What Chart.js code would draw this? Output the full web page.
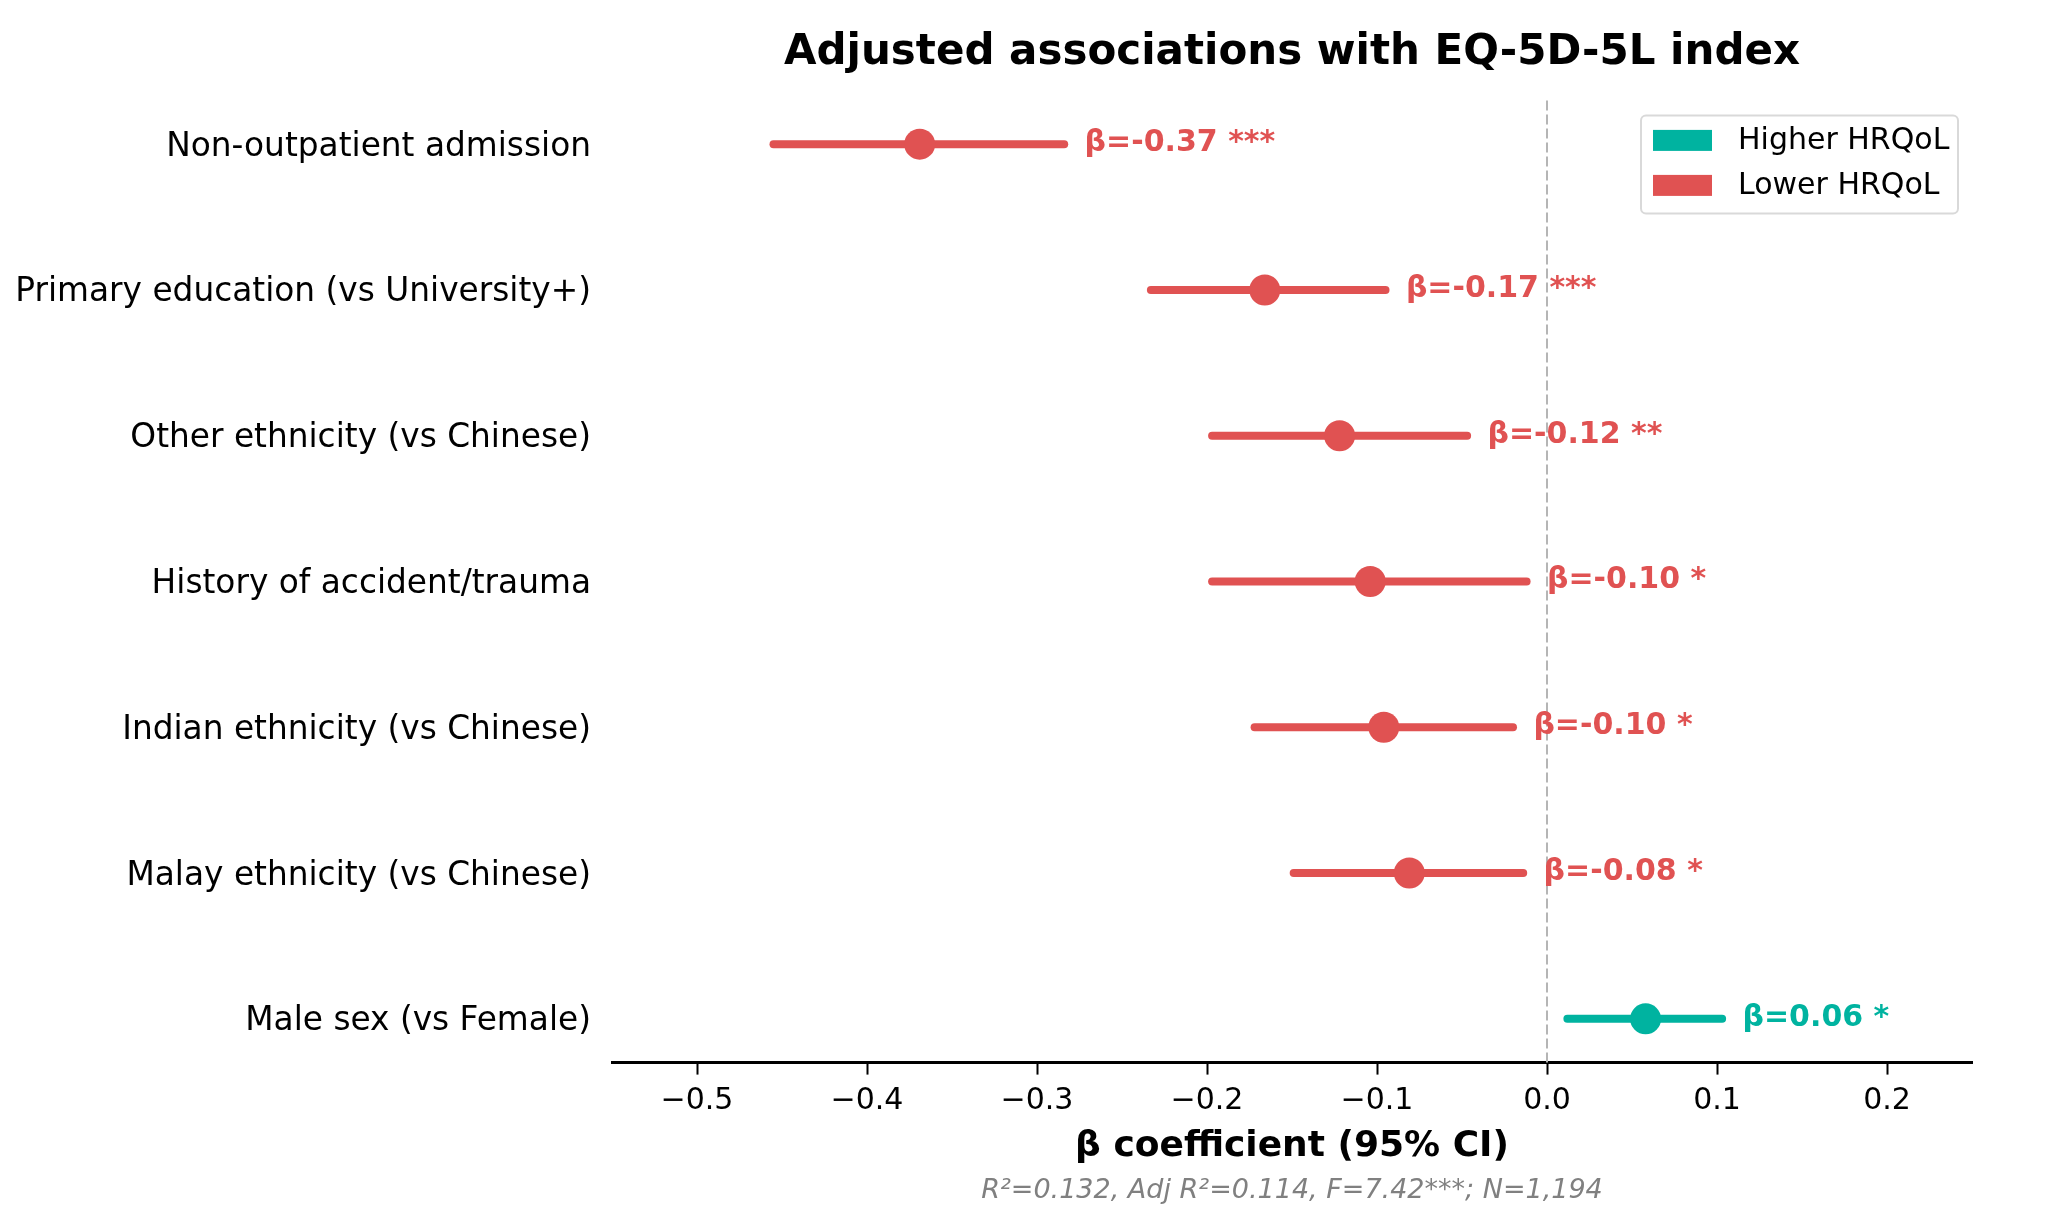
<!DOCTYPE html>
<html>
<head>
<meta charset="utf-8">
<script src="https://cdn.jsdelivr.net/npm/chart.js@4.4.1/dist/chart.umd.min.js"></script>
<style>
  html, body { margin: 0; padding: 0; background: #fff; }
</style>
</head>
<body>
<canvas id="forest" width="2065" height="1216"></canvas>
<script>
// rows, top to bottom
const labels = [
  'Non-outpatient admission',
  'Primary education (vs University+)',
  'Other ethnicity (vs Chinese)',
  'History of accident/trauma',
  'Indian ethnicity (vs Chinese)',
  'Malay ethnicity (vs Chinese)',
  'Male sex (vs Female)'
];
const beta   = [-0.369, -0.166, -0.122, -0.104, -0.096, -0.081, 0.058];
const ciLow  = [-0.455, -0.233, -0.197, -0.197, -0.172, -0.149, 0.012];
const ciHigh = [-0.284, -0.095, -0.047, -0.012, -0.020, -0.014, 0.103];
const stars  = ['***', '***', '**', '*', '*', '*', '*'];
const xTicks = [-0.5, -0.4, -0.3, -0.2, -0.1, 0.0, 0.1, 0.2];
const legendNames = ['Higher HRQoL', 'Lower HRQoL'];
const footnote = 'R\u00b2=0.132, Adj R\u00b2=0.114, F=7.42***; N=1,194';

const TEAL = '#00b3a0';
const RED = '#e05252';
const FONT = '"DejaVu Sans", sans-serif';

const colors = beta.map(b => b >= 0 ? TEAL : RED);

// dashed reference line at zero
const zeroLine = {
  id: 'zeroLine',
  beforeDatasetsDraw(chart) {
    const {ctx, chartArea, scales} = chart;
    const x0 = scales.x.getPixelForValue(0);
    ctx.save();
    ctx.strokeStyle = '#b5b5b5';
    ctx.lineWidth = 2;
    ctx.setLineDash([10, 4]);
    ctx.beginPath();
    ctx.moveTo(x0, chartArea.top);
    ctx.lineTo(x0, chartArea.bottom);
    ctx.stroke();
    ctx.restore();
  }
};

// beta text to the right of each interval
const betaLabels = {
  id: 'betaLabels',
  afterDatasetsDraw(chart) {
    const {ctx, scales} = chart;
    ctx.save();
    ctx.font = 'bold 30px ' + FONT;
    ctx.textAlign = 'left';
    ctx.textBaseline = 'middle';
    labels.forEach((l, i) => {
      const x = scales.x.getPixelForValue(ciHigh[i] + 0.012);
      const y = scales.y.getPixelForValue(i) - 1;
      ctx.fillStyle = colors[i];
      ctx.fillText('\u03b2=' + beta[i].toFixed(2) + ' ' + stars[i], x, y);
    });
    ctx.restore();
  }
};

// boxed legend in the upper right of the plot
const boxLegend = {
  id: 'boxLegend',
  afterDraw(chart) {
    const {ctx, chartArea} = chart;
    const w = 317, h = 98;
    const left = chartArea.right - 14 - w;
    const top = chartArea.top + 15;
    ctx.save();
    ctx.fillStyle = 'rgba(255,255,255,0.8)';
    ctx.strokeStyle = '#d9d9d9';
    ctx.lineWidth = 2;
    ctx.beginPath();
    ctx.roundRect(left, top, w, h, 5);
    ctx.fill();
    ctx.stroke();
    ctx.font = '30px ' + FONT;
    ctx.textAlign = 'left';
    ctx.textBaseline = 'middle';
    [TEAL, RED].forEach((c, k) => {
      const cy = top + 25 + k * 45;
      ctx.fillStyle = c;
      ctx.fillRect(left + 12, cy - 10.5, 59, 21);
      ctx.fillStyle = '#000';
      ctx.fillText(legendNames[k], left + 97, cy + 1);
    });
    ctx.restore();
  }
};

const datasets = [
  {
    type: 'scatter',
    data: beta.map((b, i) => ({x: b, y: i})),
    pointRadius: 15.5,
    pointHoverRadius: 15.5,
    backgroundColor: colors,
    borderWidth: 0
  }
];
labels.forEach((l, i) => {
  datasets.push({
    type: 'line',
    data: [{x: ciLow[i], y: i}, {x: ciHigh[i], y: i}],
    borderColor: colors[i],
    borderWidth: 8,
    borderCapStyle: 'round',
    pointRadius: 0,
    showLine: true,
    fill: false
  });
});

new Chart(document.getElementById('forest'), {
  type: 'scatter',
  data: {datasets: datasets},
  options: {
    responsive: false,
    animation: false,
    layout: {padding: {left: 0, right: 93, top: 0, bottom: 9}},
    plugins: {
      legend: {display: false},
      tooltip: {enabled: false},
      title: {
        display: true,
        text: 'Adjusted associations with EQ-5D-5L index',
        color: '#000',
        font: {family: FONT, size: 42, weight: 'bold'},
        padding: {top: 28, bottom: 22},
        fullSize: false
      },
      subtitle: {
        display: true,
        position: 'bottom',
        text: footnote,
        color: '#808080',
        font: {family: FONT, size: 27, style: 'italic'},
        padding: 0,
        fullSize: false
      }
    },
    scales: {
      x: {
        type: 'linear',
        min: -0.55,
        max: 0.25,
        afterBuildTicks: s => { s.ticks = xTicks.map(v => ({value: v})); },
        afterFit: s => { s.height = 112; },
        ticks: {
          color: '#000',
          font: {family: FONT, size: 30},
          padding: 9,
          maxRotation: 0,
          autoSkip: false,
          callback: v => (v < -1e-9 ? '\u2212' : '') + Math.abs(v).toFixed(1)
        },
        grid: {
          display: true,
          drawOnChartArea: false,
          drawTicks: true,
          tickLength: 12,
          tickWidth: 2,
          tickColor: '#000'
        },
        border: {display: true, color: '#000', width: 3},
        title: {
          display: true,
          text: '\u03b2 coefficient (95% CI)',
          color: '#000',
          font: {family: FONT, size: 36, weight: 'bold'},
          padding: {top: 0, bottom: 6}
        }
      },
      y: {
        type: 'linear',
        min: -0.3,
        max: 6.3,
        reverse: true,
        afterBuildTicks: s => { s.ticks = labels.map((l, i) => ({value: i})); },
        afterFit: s => { s.width = 612; },
        ticks: {
          color: '#000',
          font: {family: FONT, size: 32.8},
          padding: 21,
          labelOffset: 3,
          autoSkip: false,
          callback: v => labels[v]
        },
        grid: {display: false, drawTicks: false},
        border: {display: false}
      }
    }
  },
  plugins: [zeroLine, betaLabels, boxLegend]
});
</script>
</body>
</html>
